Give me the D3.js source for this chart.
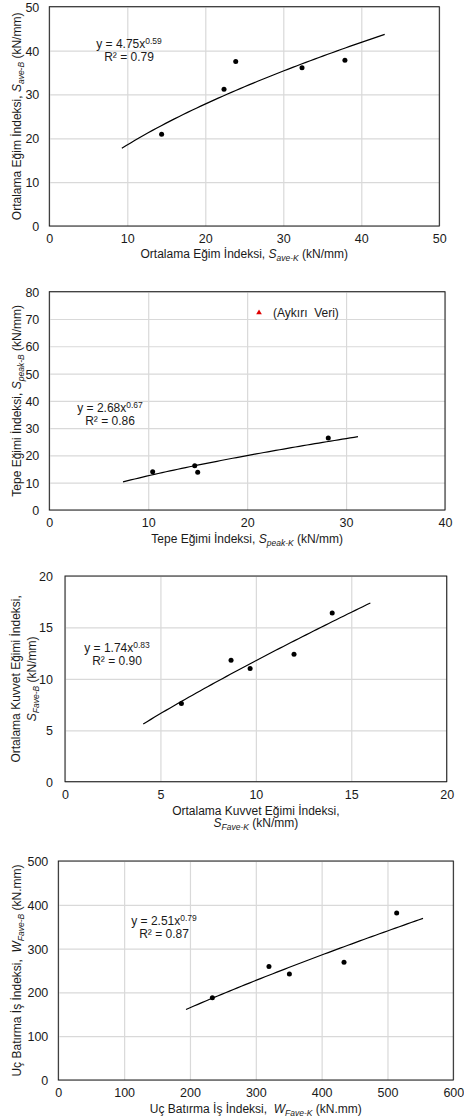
<!DOCTYPE html>
<html>
<head>
<meta charset="utf-8">
<script src="https://cdnjs.cloudflare.com/ajax/libs/d3/7.8.5/d3.min.js"></script>
<style>
  body { margin: 0; background: #fff; }
  svg text { font-family: "Liberation Sans", Arial, sans-serif; fill: #1a1a1a; white-space: pre; }
</style>
</head>
<body>
<script>
// values
var p1X = [14.4, 22.4, 23.9, 32.4, 37.9];
var p1Y = [20.9, 31.2, 37.5, 36.1, 37.8];
var p2X = [10.45, 14.7, 15.0, 28.2];
var p2Y = [14.0, 16.2, 13.8, 26.4];
var p2Outlier = [21.2, 72.3];
var p3X = [6.1, 8.7, 9.7, 12.0, 14.0];
var p3Y = [7.6, 11.8, 11.0, 12.4, 16.4];
var p4X = [234, 320, 351, 434, 514];
var p4Y = [188, 259, 242, 269, 381];

// power trendlines y = a*x^b, and x span of the drawn line
var fits = [[4.75, 0.59], [2.68, 0.67], [1.74, 0.83], [2.51, 0.79]];
var fitSpans = [[9.3, 43], [7.45, 31.2], [4.1, 16.0], [194, 554]];
var r2 = ["0.79", "0.86", "0.90", "0.87"];

var xTicks = [d3.range(0, 51, 10), d3.range(0, 41, 10), d3.range(0, 21, 5), d3.range(0, 601, 100)];
var yTicks = [d3.range(0, 51, 10), d3.range(0, 81, 10), d3.range(0, 21, 5), d3.range(0, 501, 100)];

var panels = [
  {box: [49.3, 6.7, 439.3, 226], xs: p1X, ys: p1Y,
   xt: [["Ortalama Eğim İndeksi, ", "S", "ave-K", " (kN/mm)"]], xtY: [258],
   yt: [["Ortalama Eğim İndeksi, ", "S", "ave-B", " (kN/mm)"]], ytX: [21],
   eq: [129, 48]},
  {box: [49.3, 291.7, 445, 510], xs: p2X, ys: p2Y,
   xt: [["Tepe Eğimi İndeksi, ", "S", "peak-K", " (kN/mm)"]], xtY: [543],
   yt: [["Tepe Eğimi İndeksi, ", "S", "peak-B", " (kN/mm)"]], ytX: [21],
   eq: [110, 412]},
  {box: [65, 576, 446.7, 781.7], xs: p3X, ys: p3Y,
   xt: [["Ortalama Kuvvet Eğimi İndeksi,"], ["", "S", "Fave-K", " (kN/mm)"]], xtY: [815, 827],
   yt: [["Ortalama Kuvvet Eğimi İndeksi,"], ["", "S", "Fave-B", " (kN/mm)"]], ytX: [20, 36],
   eq: [117, 652]},
  {box: [58.3, 861, 453.3, 1080], xs: p4X, ys: p4Y,
   xt: [["Uç Batırma İş İndeksi,  ", "W", "Fave-K", " (kN.mm)"]], xtY: [1113],
   yt: [["Uç Batırma İş İndeksi,  ", "W", "Fave-B", " (kN.mm)"]], ytX: [21],
   eq: [164, 925]}
];

var svg = d3.select("body").append("svg").attr("width", 464).attr("height", 1120);

function richText(t, parts) {
  t.append("tspan").text(parts[0]);
  if (parts.length > 1) {
    t.append("tspan").attr("font-style", "italic").text(parts[1]);
    t.append("tspan").attr("font-style", "italic").attr("font-size", 8.5).attr("dy", 3).text(parts[2]);
    t.append("tspan").attr("dy", -3).text(parts[3]);
  }
}

panels.forEach(function (p, i) {
  var b = p.box;
  var x = d3.scaleLinear().domain(d3.extent(xTicks[i])).range([b[0], b[2]]);
  var y = d3.scaleLinear().domain(d3.extent(yTicks[i])).range([b[3], b[1]]);
  var g = svg.append("g");

  // grid
  g.append("g").attr("transform", "translate(0," + b[3] + ")")
    .call(d3.axisBottom(x).tickValues(xTicks[i]).tickSize(-(b[3] - b[1])).tickFormat(""))
    .call(function (a) { a.select(".domain").remove(); a.selectAll("line").attr("stroke", "#d9d9d9").attr("stroke-width", 1.2); });
  g.append("g").attr("transform", "translate(" + b[0] + ",0)")
    .call(d3.axisLeft(y).tickValues(yTicks[i]).tickSize(-(b[2] - b[0])).tickFormat(""))
    .call(function (a) { a.select(".domain").remove(); a.selectAll("line").attr("stroke", "#d9d9d9").attr("stroke-width", 1.2); });

  // tick labels
  g.append("g").attr("transform", "translate(0," + b[3] + ")")
    .call(d3.axisBottom(x).tickValues(xTicks[i]).tickSize(0).tickPadding(8))
    .call(function (a) { a.select(".domain").remove(); a.selectAll("text").attr("font-size", 12.5).attr("fill", "#1a1a1a").attr("font-family", null); });
  g.append("g").attr("transform", "translate(" + b[0] + ",0)")
    .call(d3.axisLeft(y).tickValues(yTicks[i]).tickSize(0).tickPadding(i == 2 ? 12 : 10))
    .call(function (a) { a.select(".domain").remove(); a.selectAll("text").attr("font-size", 12.5).attr("fill", "#1a1a1a").attr("font-family", null).attr("dy", "0.36em"); });

  // frame
  g.append("rect").attr("x", b[0]).attr("y", b[1]).attr("width", b[2] - b[0]).attr("height", b[3] - b[1])
    .attr("fill", "none").attr("stroke", "#1a1a1a").attr("stroke-width", 1);

  // trendline
  var f = fits[i], s = fitSpans[i];
  var tx = d3.range(0, 61).map(function (k) { return s[0] + (s[1] - s[0]) * k / 60; });
  g.append("path")
    .attr("d", d3.line().x(function (d) { return x(d); }).y(function (d) { return y(f[0] * Math.pow(d, f[1])); })(tx))
    .attr("fill", "none").attr("stroke", "#000").attr("stroke-width", 1.2);

  // points
  g.selectAll("circle.pt").data(p.xs).enter().append("circle")
    .attr("cx", function (d) { return x(d); })
    .attr("cy", function (d, k) { return y(p.ys[k]); })
    .attr("r", 2.5).attr("fill", "#000");

  if (i == 1) {
    var ox = x(p2Outlier[0]), oy = y(p2Outlier[1]);
    g.append("path").attr("d", d3.symbol(d3.symbolTriangle, 14)()).attr("transform", "translate(" + ox + "," + oy + ")").attr("fill", "#e00000");
    g.append("text").attr("x", ox + 14).attr("y", oy + 4.5).attr("font-size", 12).text("(Aykırı  Veri)");
  }

  // equation
  var eq = g.append("text").attr("x", p.eq[0]).attr("y", p.eq[1]).attr("text-anchor", "middle").attr("font-size", 12);
  eq.append("tspan").text("y = " + f[0].toFixed(2) + "x");
  eq.append("tspan").attr("font-size", 8.5).attr("dy", -4).text(f[1].toFixed(2));
  g.append("text").attr("x", p.eq[0]).attr("y", p.eq[1] + 13).attr("text-anchor", "middle").attr("font-size", 12)
    .text("R² = " + r2[i]);

  // axis titles
  var cx = (b[0] + b[2]) / 2, cy = (b[1] + b[3]) / 2;
  p.xt.forEach(function (parts, k) {
    var t = g.append("text").attr("x", cx).attr("y", p.xtY[k]).attr("text-anchor", "middle").attr("font-size", 12);
    richText(t, parts);
  });
  p.yt.forEach(function (parts, k) {
    var t = g.append("text").attr("transform", "translate(" + p.ytX[k] + "," + cy + ") rotate(-90)")
      .attr("text-anchor", "middle").attr("font-size", 12);
    richText(t, parts);
  });
});
</script>
</body>
</html>
